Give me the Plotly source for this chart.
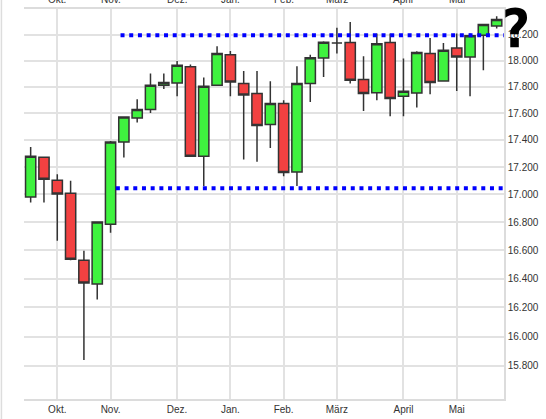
import plotly.graph_objects as go

# Weekly candles (index = week number)
weeks = list(range(36))
opens = [16982, 17272, 17104, 17009, 16530, 16362, 16786, 17385, 17564, 17627,
         17811, 17828, 17953, 17280, 17811, 18045, 17824, 17748, 17515, 17672,
         17164, 17824, 18019, 18135, 18138, 17854, 17754, 18138, 17727, 17752,
         18053, 17843, 18096, 18027, 18195, 18267]
highs = [17348, 17275, 17148, 17099, 16596, 16805, 17393, 17575, 17705, 17900,
         17900, 17996, 17969, 17869, 18109, 18073, 17920, 17920, 17841, 17697,
         17956, 18045, 18148, 18254, 18298, 18032, 18208, 18208, 18015, 18071,
         18174, 18135, 18208, 18208, 18280, 18343]
lows = [16942, 16942, 16667, 16530, 15840, 16255, 16724, 17270, 17530, 17602,
        17783, 17727, 17275, 17062, 17805, 17727, 17255, 17238, 17341, 17133,
        17062, 17684, 17874, 18053, 17824, 17617, 17697, 17577, 17577, 17642,
        17742, 17840, 17768, 17727, 17925, 18247]
closes = [17280, 17111, 17004, 16537, 16369, 16802, 17385, 17572, 17627, 17811,
          17831, 17963, 17280, 17803, 18053, 17836, 17737, 17507, 17672, 17160,
          17824, 18022, 18140, 18135, 17849, 17748, 18130, 17710, 17765, 18061,
          17831, 18079, 18027, 18192, 18278, 18317]

month_labels = ["Okt.", "Nov.", "Dez.", "Jan.", "Feb.", "März", "April", "Mai"]
month_weeks = [2, 6, 11, 15, 19, 23, 28, 32]

y_ticks = [15800, 16000, 16200, 16400, 16600, 16800, 17000, 17200,
           17400, 17600, 17800, 18000, 18200]
y_tick_labels = ["15.800", "16.000", "16.200", "16.400", "16.600", "16.800",
                 "17.000", "17.200", "17.400", "17.600", "17.800", "18.000",
                 "18.200"]

# Horizontal support / resistance levels (dotted blue)
level_values = [17045, 18195]
level_start_weeks = [6.4, 6.75]

GREEN = "#3ff23f"
RED = "#f24141"
OUTLINE = "#333333"
GRID = "#e2e2e2"
FONT = "Liberation Sans, Arial, sans-serif"

fig = go.Figure()
fig.add_trace(go.Candlestick(
    x=weeks, open=opens, high=highs, low=lows, close=closes,
    increasing=dict(fillcolor=GREEN, line=dict(color=OUTLINE, width=1.5)),
    decreasing=dict(fillcolor=RED, line=dict(color=OUTLINE, width=1.5)),
    whiskerwidth=0, showlegend=False, hoverinfo="skip",
))

for lv, x0 in zip(level_values, level_start_weeks):
    fig.add_shape(type="line", xref="x", yref="y", x0=x0, x1=36, y0=lv, y1=lv,
                  line=dict(color="#0000ff", width=4, dash="4px,4.7px"))

# month labels repeated at the top (cut off by the image edge)
for m, lab in zip(month_weeks, month_labels):
    fig.add_annotation(x=m, y=1, xref="x", yref="paper", yanchor="bottom",
                       yshift=2, showarrow=False, text=lab,
                       font=dict(family=FONT, size=10, color="#333333"))

# hand-drawn question mark
fig.add_annotation(x=1.024, y=0.95, xref="paper", yref="paper",
                   xanchor="center", yanchor="middle",
                   showarrow=False, text="<b>?</b>",
                   font=dict(family="Liberation Sans Narrow, DejaVu Sans Condensed, DejaVu Sans",
                             size=54, color="#000000"))

# outer frame line at the left edge
fig.add_shape(type="line", xref="paper", yref="paper", x0=-0.047, x1=-0.047,
              y0=-0.2, y1=1.2, line=dict(color="#dddddd", width=1.5))

fig.update_layout(
    width=546, height=419,
    margin=dict(l=24, r=42, t=9, b=20, autoexpand=False),
    paper_bgcolor="white", plot_bgcolor="white",
    boxgap=0.23, boxgroupgap=0,
    font=dict(family=FONT, size=10, color="#333333"),
    xaxis=dict(
        range=[-0.5, 35.55], tickvals=month_weeks, ticktext=month_labels,
        showgrid=True, gridcolor=GRID, gridwidth=1.5, zeroline=False,
        showline=True, linecolor="#dcdcdc", linewidth=1.5, mirror=True,
        ticks="", rangeslider=dict(visible=False),
        tickfont=dict(family=FONT, size=10, color="#333333"),
    ),
    yaxis=dict(
        type="log", range=[4.19254, 4.264818], side="right",
        tickvals=y_ticks, ticktext=y_tick_labels,
        showgrid=True, gridcolor=GRID, gridwidth=1.5, zeroline=False,
        showline=True, linecolor="#dcdcdc", linewidth=1.5,
        ticks="", tickfont=dict(family=FONT, size=10, color="#333333"),
    ),
)

fig.write_html("out.html", config={"displayModeBar": False},
               post_script="document.body.style.margin='0';document.body.style.overflow='hidden';")
